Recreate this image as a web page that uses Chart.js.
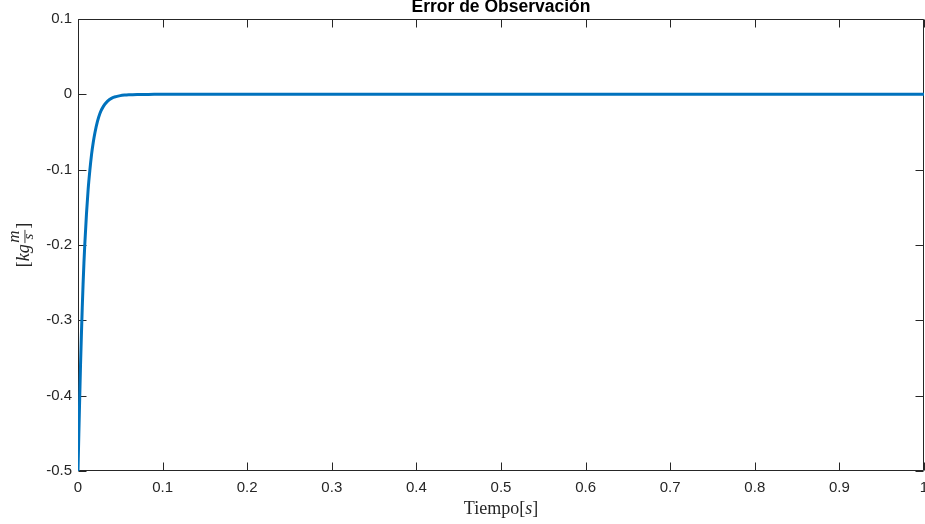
<!DOCTYPE html>
<html>
<head>
<meta charset="utf-8">
<title>Error de Observación</title>
<script src="https://cdn.jsdelivr.net/npm/chart.js@4.4.1/dist/chart.umd.min.js"></script>
<style>
  html, body { margin: 0; padding: 0; background: #ffffff; overflow: hidden; }
  #wrap { position: relative; width: 925px; height: 524px; }
</style>
</head>
<body>
<div id="wrap"><canvas id="c" width="925" height="524"></canvas></div>
<script>
// Observation error of the momentum estimate over time
const tiempo = [0, 0.001, 0.002, 0.003, 0.004, 0.005, 0.006, 0.007, 0.008, 0.010,
                0.012, 0.014, 0.016, 0.018, 0.020, 0.023, 0.026, 0.030, 0.035, 0.040,
                0.045, 0.050, 0.055, 0.060, 0.070, 0.080, 0.090, 0.100, 0.2, 0.3,
                0.4, 0.5, 0.6, 0.7, 0.8, 0.9, 1.0];
const errorObs = [-0.500, -0.450, -0.404, -0.359, -0.320, -0.284, -0.252, -0.224, -0.200, -0.159,
                  -0.126, -0.101, -0.080, -0.064, -0.051, -0.036, -0.025, -0.016, -0.009, -0.005,
                  -0.003, -0.0017, -0.001, -0.0006, -0.0002, -0.0001, 0, 0, 0, 0,
                  0, 0, 0, 0, 0, 0, 0];

const xTicks = [0, 0.1, 0.2, 0.3, 0.4, 0.5, 0.6, 0.7, 0.8, 0.9, 1];
const yTicks = [-0.5, -0.4, -0.3, -0.2, -0.1, 0, 0.1];

const tituloTexto = 'Error de Observación';
const ejeX = { base: 'Tiempo', unidad: 's' };

const axisColor = '#262626';
const tickFont = { family: '"Liberation Sans", Arial, Helvetica, sans-serif', size: 15 };
const fmt = v => Number(Number(v).toFixed(1)).toString();

// Box around the axes with inward tick marks on all four sides, title and LaTeX-like labels
const boxPlugin = {
  id: 'matlabBox',
  beforeDatasetsDraw(chart) {
    const { ctx, chartArea: a, scales } = chart;
    const L = Math.round(a.left) + 0.5, R = Math.round(a.right) - 0.5;
    const T = Math.round(a.top) + 0.5, B = Math.round(a.bottom) - 0.5;
    ctx.save();
    ctx.strokeStyle = axisColor;
    ctx.lineWidth = 1;
    ctx.beginPath();
    ctx.rect(L, T, R - L, B - T);
    const tl = 8;
    xTicks.forEach(v => {
      const px = Math.round(scales.x.getPixelForValue(v)) + 0.5;
      ctx.moveTo(px, B); ctx.lineTo(px, B - tl);
      ctx.moveTo(px, T); ctx.lineTo(px, T + tl);
    });
    yTicks.forEach(v => {
      const py = Math.round(scales.y.getPixelForValue(v)) + 0.5;
      ctx.moveTo(L, py); ctx.lineTo(L + tl, py);
      ctx.moveTo(R, py); ctx.lineTo(R - tl, py);
    });
    ctx.stroke();
    ctx.restore();
  },
  afterDraw(chart) {
    const { ctx, chartArea: a } = chart;
    const cx = (a.left + a.right) / 2;
    const cy = (a.top + a.bottom) / 2;
    ctx.save();
    // Title
    ctx.fillStyle = '#000000';
    ctx.font = 'bold 17.5px "Liberation Sans", Arial, sans-serif';
    ctx.textAlign = 'center';
    ctx.textBaseline = 'alphabetic';
    ctx.fillText(tituloTexto, cx, 12);

    // x-axis label: Tiempo[s]
    const serif = '"Liberation Serif", "Times New Roman", serif';
    ctx.fillStyle = axisColor;
    ctx.textAlign = 'left';
    const fUp = '18px ' + serif, fIt = 'italic 18px ' + serif;
    const parts = [[ejeX.base + '[', fUp], [ejeX.unidad, fIt], [']', fUp]];
    let w = 0;
    parts.forEach(p => { ctx.font = p[1]; w += ctx.measureText(p[0]).width; });
    let x = cx - w / 2;
    parts.forEach(p => { ctx.font = p[1]; ctx.fillText(p[0], x, 514); x += ctx.measureText(p[0]).width; });

    // y-axis label: [kg m/s] with a stacked fraction, rotated
    ctx.translate(29, cy);
    ctx.rotate(-Math.PI / 2);
    const fNum = 'italic 17px ' + serif;
    const fDen = 'italic 15px ' + serif;
    ctx.font = fUp; const wL = ctx.measureText('[').width;
    ctx.font = fIt; const wKg = ctx.measureText('kg').width;
    ctx.font = fNum; const wM = ctx.measureText('m').width;
    ctx.font = fDen; const wS = ctx.measureText('s').width;
    const wFr = Math.max(wM, wS) + 1;
    ctx.font = fUp; const wR = ctx.measureText(']').width;
    const total = wL + wKg + 1 + wFr + 1 + wR;
    let lx = -total / 2;
    ctx.font = fUp; ctx.fillText('[', lx, 0); lx += wL;
    ctx.font = fIt; ctx.fillText('kg', lx, 0); lx += wKg + 1;
    ctx.textAlign = 'center';
    ctx.font = fNum; ctx.fillText('m', lx + wFr / 2, -10.5);
    ctx.font = fDen; ctx.fillText('s', lx + wFr / 2, 4);
    ctx.fillRect(lx, -4.5, wFr, 0.9);
    ctx.textAlign = 'left';
    lx += wFr + 1;
    ctx.font = fUp; ctx.fillText(']', lx, 0);
    ctx.restore();
  }
};

const puntos = tiempo.map((t, i) => ({ x: t, y: errorObs[i] }));

new Chart(document.getElementById('c'), {
  type: 'line',
  data: {
    datasets: [{
      data: puntos,
      borderColor: '#0072BD',
      borderWidth: 3,
      pointRadius: 0,
      fill: false,
      cubicInterpolationMode: 'monotone'
    }]
  },
  options: {
    responsive: false,
    animation: false,
    devicePixelRatio: 1,
    layout: { padding: { top: 19, right: 1, left: 0, bottom: 0 } },
    plugins: { legend: { display: false }, title: { display: false }, tooltip: { enabled: false } },
    scales: {
      x: {
        type: 'linear', min: 0, max: 1,
        grid: { display: false, drawTicks: false },
        border: { display: false },
        ticks: {
          stepSize: 0.1, color: axisColor, font: tickFont, padding: 8,
          maxRotation: 0, autoSkip: false, callback: fmt
        },
        afterBuildTicks(s) { s.ticks = xTicks.map(v => ({ value: v })); },
        afterFit(s) { s.height = 53; s.paddingLeft = 0; s.paddingRight = 0; }
      },
      y: {
        type: 'linear', min: -0.5, max: 0.1,
        grid: { display: false, drawTicks: false },
        border: { display: false },
        ticks: { stepSize: 0.1, color: axisColor, font: tickFont, padding: 6, autoSkip: false, callback: fmt },
        afterBuildTicks(s) { s.ticks = yTicks.map(v => ({ value: v })); },
        afterFit(s) { s.width = 78; s.paddingTop = 0; s.paddingBottom = 0; }
      }
    }
  },
  plugins: [boxPlugin]
});
</script>
</body>
</html>
